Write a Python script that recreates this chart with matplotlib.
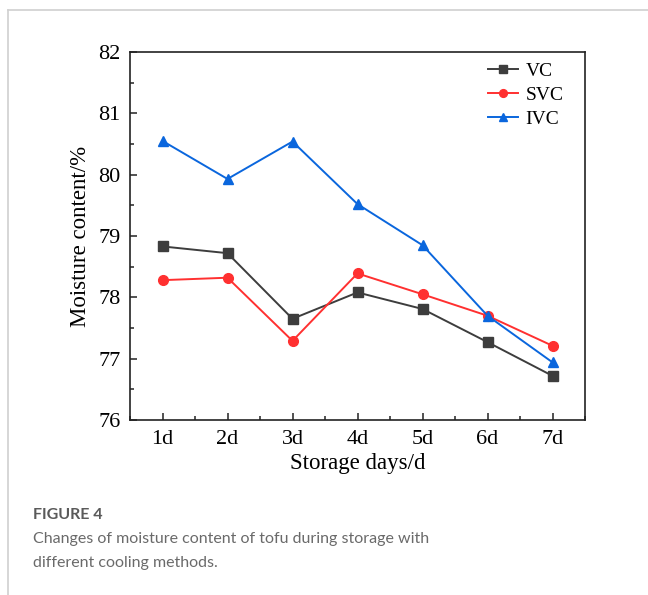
import matplotlib
matplotlib.use("Agg")
import matplotlib.pyplot as plt
from matplotlib.ticker import AutoMinorLocator, MultipleLocator
from matplotlib.lines import Line2D

days = ["1d", "2d", "3d", "4d", "5d", "6d", "7d"]
vc = [78.83, 78.72, 77.65, 78.08, 77.81, 77.27, 76.72]
svc = [78.28, 78.32, 77.29, 78.39, 78.05, 77.70, 77.21]
ivc = [80.55, 79.93, 80.54, 79.52, 78.85, 77.70, 76.94]
series_names = ["VC", "SVC", "IVC"]

W, H = 648, 595
fig = plt.figure(figsize=(W / 100, H / 100), dpi=100)
fig.patch.set_facecolor("white")

serif = ["Liberation Serif", "DejaVu Serif"]

ax = fig.add_axes([130 / W, 1 - 420 / H, 455 / W, 368 / H])
x = list(range(1, len(days) + 1))
ax.plot(x, vc, color="#3d3d3d", marker="s", markersize=6.5, linewidth=1.4, label=series_names[0])
ax.plot(x, svc, color="#ff3030", marker="o", markersize=7, linewidth=1.4, label=series_names[1])
ax.plot(x, ivc, color="#0a66dd", marker="^", markersize=7.5, linewidth=1.4, label=series_names[2])

ax.set_xlim(0.5, 7.5)
ax.set_ylim(76, 82)
ax.set_xticks(x)
ax.set_xticklabels(days)
ax.yaxis.set_major_locator(MultipleLocator(1))
ax.yaxis.set_minor_locator(AutoMinorLocator(2))
ax.xaxis.set_minor_locator(AutoMinorLocator(2))
ax.tick_params(which="both", direction="in", top=False, right=False, width=1.1, color="#222222")
ax.tick_params(which="major", length=5, labelsize=16, pad=7)
ax.tick_params(which="minor", length=3)
for lab in ax.get_xticklabels() + ax.get_yticklabels():
    lab.set_fontfamily(serif)
for sp in ax.spines.values():
    sp.set_linewidth(1.2)
    sp.set_color("#222222")

ax.set_xlabel("Storage days/d", fontsize=16.5, family=serif, labelpad=3)
ax.set_ylabel("Moisture content/%", fontsize=16.5, family=serif, labelpad=5)

leg = ax.legend(loc="upper right", frameon=False, prop={"family": serif, "size": 14},
                handlelength=1.55, handletextpad=0.4, labelspacing=0.32, markerscale=0.8,
                borderaxespad=0.0, bbox_to_anchor=(0.97, 0.993))

# page frame lines
fig.add_artist(Line2D([8 / W, 1], [1 - 10 / H, 1 - 10 / H], color="#d0d0d0", linewidth=1.2))
fig.add_artist(Line2D([8 / W, 8 / W], [0, 1 - 10 / H], color="#d0d0d0", linewidth=1.2))

cap_font = ["Lato", "DejaVu Sans"]
fig.text(33 / W, 1 - 515 / H, "FIGURE 4", fontsize=11.5, family=cap_font, weight="bold",
         color="#5a5a5a", va="center")
fig.text(33 / W, 1 - 539 / H, "Changes of moisture content of tofu during storage with",
         fontsize=11.5, family=cap_font, color="#6a6a6a", va="center")
fig.text(33 / W, 1 - 563 / H, "different cooling methods.",
         fontsize=11.5, family=cap_font, color="#6a6a6a", va="center")

fig.savefig("out.png", dpi=100)
